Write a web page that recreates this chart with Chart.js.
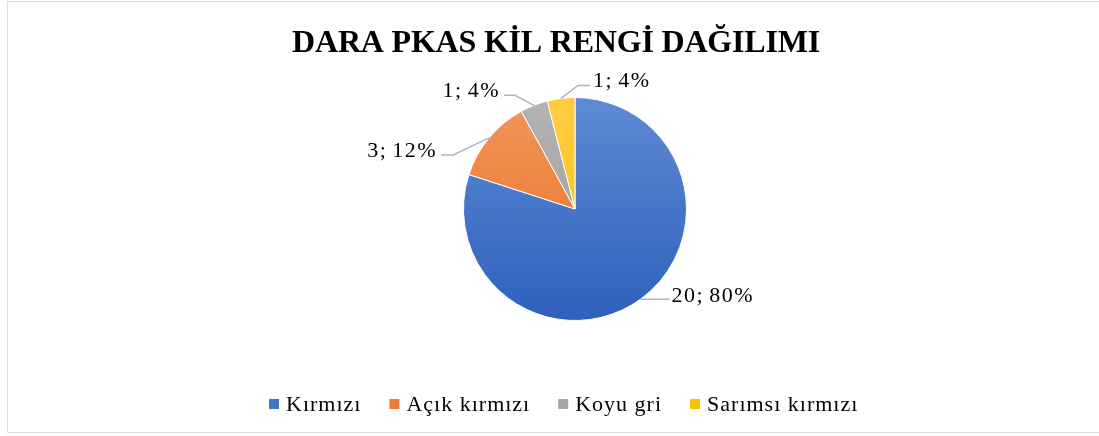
<!DOCTYPE html>
<html>
<head>
<meta charset="utf-8">
<script src="https://cdn.jsdelivr.net/npm/chart.js@4.4.0/dist/chart.umd.min.js"></script>
<style>
  html, body { margin: 0; padding: 0; background: #fff; }
  #wrap { position: relative; width: 1099px; height: 436px; overflow: hidden; }
  #frame { position: absolute; left: 7px; top: 1px; width: 1200px; height: 432px;
           border: 1px solid #d9dde4; box-sizing: border-box; }
  canvas { position: absolute; left: 0; top: 0; }
</style>
</head>
<body>
<div id="wrap">
  <div id="frame"></div>
  <canvas id="pie" width="1099" height="436"></canvas>
</div>
<script>
// ---------- DATA ----------
const chartTitle = 'DARA PKAS KİL RENGİ DAĞILIMI';
const categories = ['Kırmızı', 'Açık kırmızı', 'Koyu gri', 'Sarımsı kırmızı'];
const counts = [20, 3, 1, 1];
const percents = [80, 12, 4, 4];

// ---------- STYLE ----------
const topColors = ['#5f8ad4', '#f2965c', '#b3b3b3', '#ffcd45'];
const bottomColors = ['#2f60bd', '#e76d1c', '#9a9a9a', '#ffbd00'];
const legendColors = ['#4472c4', '#ed7d31', '#a5a5a5', '#ffc000'];
const serif = '"Liberation Serif", "Times New Roman", serif';

// leader line offsets relative to the slice edge point (layout only)
const labelLayout = [
  { elbow: [0, 0],    end: [29, 0],   align: 'left',  tx: 2,  ty: 3 },
  { elbow: [-36, 17], end: [-48, 17], align: 'right', tx: -4, ty: 2 },
  { elbow: [-19, -10],end: [-30, -10],align: 'right', tx: -4, ty: 2 },
  { elbow: [17, -13], end: [29, -13], align: 'left',  tx: 3,  ty: 2 }
];

function sliceFill(ctx){
  const area = ctx.chart.chartArea;
  if (!area) return legendColors[ctx.dataIndex];
  const g = ctx.chart.ctx.createLinearGradient(0, area.top, 0, area.bottom);
  g.addColorStop(0, topColors[ctx.dataIndex]);
  g.addColorStop(1, bottomColors[ctx.dataIndex]);
  return g;
}

const decorations = {
  id: 'decorations',
  afterDraw(chart){
    const ctx = chart.ctx;
    ctx.save();

    // title
    ctx.fillStyle = '#000';
    ctx.font = 'bold 32px ' + serif;
    ctx.letterSpacing = '-0.2px';
    ctx.textAlign = 'center';
    ctx.textBaseline = 'alphabetic';
    ctx.fillText(chartTitle, 556, 52);

    // data labels with leader lines
    const meta = chart.getDatasetMeta(0);
    ctx.font = '22px ' + serif;
    ctx.letterSpacing = '1.5px';
    ctx.wordSpacing = '-2px';
    meta.data.forEach((arc, i) => {
      const p = arc.getProps(['x', 'y', 'startAngle', 'endAngle', 'outerRadius'], true);
      const mid = (p.startAngle + p.endAngle) / 2;
      const ex = p.x + Math.cos(mid) * p.outerRadius;
      const ey = p.y + Math.sin(mid) * p.outerRadius;
      const L = labelLayout[i];
      ctx.strokeStyle = '#a9b6c9';
      ctx.lineWidth = 1.5;
      ctx.beginPath();
      ctx.moveTo(ex, ey);
      ctx.lineTo(ex + L.elbow[0], ey + L.elbow[1]);
      ctx.lineTo(ex + L.end[0], ey + L.end[1]);
      ctx.stroke();
      ctx.fillStyle = '#000';
      ctx.textAlign = L.align;
      ctx.fillText(counts[i] + '; ' + percents[i] + '%', ex + L.end[0] + L.tx, ey + L.end[1] + L.ty);
    });

    // legend
    ctx.font = '22px ' + serif;
    ctx.letterSpacing = '1px';
    ctx.wordSpacing = '0px';
    ctx.textAlign = 'left';
    let x = 269;
    categories.forEach((name, i) => {
      ctx.fillStyle = legendColors[i];
      ctx.fillRect(x, 399, 10, 10);
      ctx.fillStyle = '#000';
      ctx.fillText(name, x + 17, 411);
      x += 17 + ctx.measureText(name).width + 28;
    });

    ctx.restore();
  }
};

new Chart(document.getElementById('pie'), {
  type: 'pie',
  data: {
    labels: categories,
    datasets: [{
      data: counts,
      backgroundColor: sliceFill,
      borderColor: '#ffffff',
      borderWidth: 1
    }]
  },
  options: {
    responsive: false,
    animation: false,
    devicePixelRatio: 1,
    layout: { padding: { left: 463, right: 412, top: 97, bottom: 115 } },
    plugins: {
      legend: { display: false },
      title: { display: false },
      tooltip: { enabled: false }
    }
  },
  plugins: [decorations]
});
</script>
</body>
</html>
